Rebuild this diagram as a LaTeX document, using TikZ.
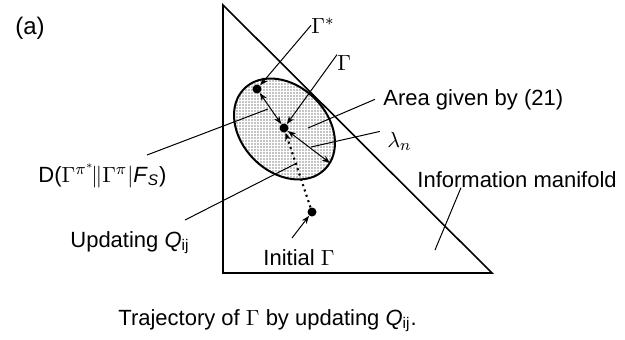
\documentclass[tikz,border=0pt]{standalone}
\usepackage{fontspec}
\setmainfont{Liberation Sans}
\usetikzlibrary{arrows.meta,patterns.meta}

\begin{document}
\begin{tikzpicture}[x=0.5pt,y=-0.5pt,>={Stealth[length=4pt,width=3pt]},
  lead/.style={line width=0.5pt},
  lbl/.style={anchor=base west,inner sep=0pt,font=\fontsize{11}{13}\selectfont},
  spot/.style={circle,fill=black,inner sep=0pt,minimum size=4.5pt}]
\useasboundingbox (0,0) rectangle (625,339);
\draw[line width=0.8pt](223,5)--(223,273)--(492,273)--cycle;
%%%
\coordinate (c) at (284.5,129);
\draw[line width=1pt,pattern={Dots[distance=1.5pt,radius=0.3pt]},rotate around={-45:(c)}](c) ellipse (57 and 43);
\node[spot] (gs) at (257,89) {};
\node[spot] (g) at (284,128) {};
\node[spot] (g0) at (312,212) {};
\coordinate (lam) at (330,163);
\draw[<->,lead](gs)--(g);
\draw[<->,lead](g)--(lam);
\draw[->,line width=1.1pt,dash pattern=on 1pt off 1.8pt](g0)--(g);
%%%
\node[lbl] (la) at (15,34) {\fontsize{12}{14}\selectfont(a)};
\node[lbl] (lgs) at (311,33) {$\Gamma^*$};
\node[lbl] (lg) at (337,70) {$\Gamma$};
\node[lbl] (larea) at (383,105) {Area given by (21)};
\node[lbl] (llam) at (387,147) {$\lambda_n$};
\node[lbl] (linfo) at (417,187) {Information manifold};
\node[lbl] (ld) at (38,182) {D($\Gamma^{\pi^*}\!\|\Gamma^{\pi}|$\textit{F}\textsubscript{\textit{S}})};
\node[lbl] (lupd) at (70,247) {Updating \textit{Q}\textsubscript{ij}};
\node[lbl] (linit) at (263,265) {Initial $\Gamma$};
\node[lbl] (lcap) at (118,325) {Trajectory of $\Gamma$ by updating \textit{Q}\textsubscript{ij}.};
%%%
\coordinate (areafoot) at (308,128);
\coordinate (lamfoot) at (311,147);
\coordinate (infofoot) at (435,250);
\coordinate (dfoot) at (268,109);
\coordinate (updfoot) at (297,163);
\coordinate (dtop) at (147,155);
\coordinate (updtop) at (185,220);
\coordinate (inittop) at (292,238);
\draw[->,lead](lgs.west)--(gs);
\draw[->,lead](lg.north west)--(g);
\draw[lead]([xshift=-4pt]larea.west)--(areafoot);
\draw[lead]([xshift=-3.5pt]llam.north west)--(lamfoot);
\draw[lead]([xshift=22pt]linfo.south west)--(infofoot);
\draw[lead](dtop)--(dfoot);
\draw[lead](updtop)--(updfoot);
\draw[->,lead](inittop)--(g0);
\end{tikzpicture}
\end{document}
